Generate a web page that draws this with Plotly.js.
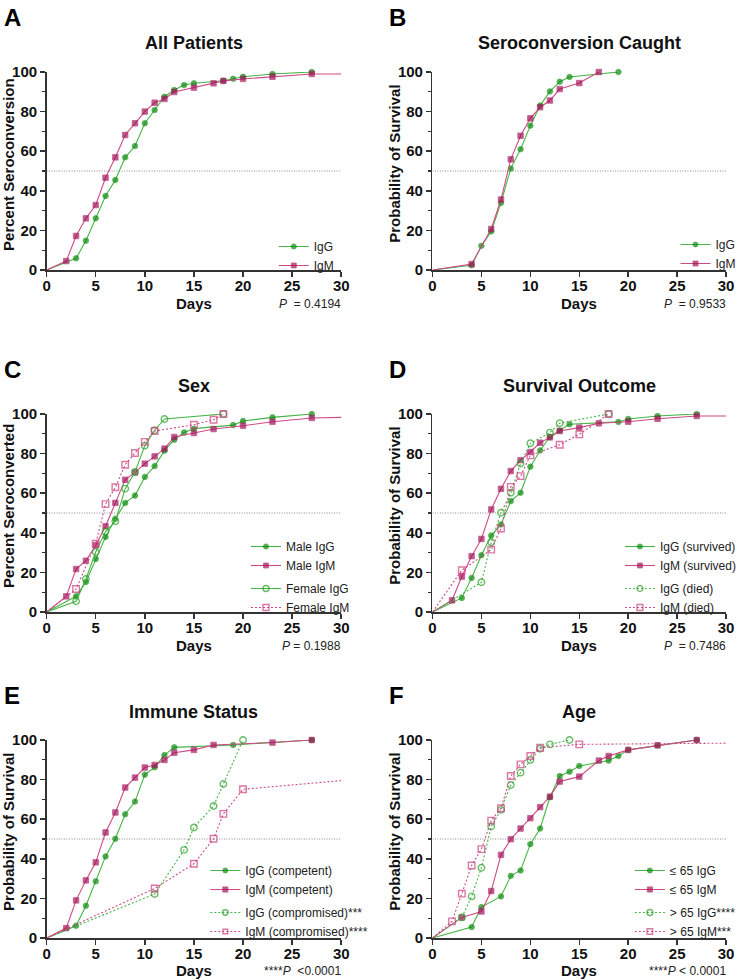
<!DOCTYPE html>
<html>
<head>
<meta charset="utf-8">
<script src="https://cdn.plot.ly/plotly-3.0.1.min.js"></script>
<style>html,body{margin:0;padding:0;background:#fff;}#chart{width:742px;height:980px;}</style>
</head>
<body>
<div id="chart"></div>
<script>
// ---------------- DATA ----------------
// A: All Patients
const a_igg_x = [0,3,4,5,6,7,8,9,10,11,12,13,14,15,18,19,20,23,27];
const a_igg_y = [0,5.9,14.8,26.1,37.4,45.5,56.9,62.6,74.1,80.8,87.5,90.9,93.4,94.3,95.6,96.6,97.6,99.0,100];
const a_igm_x = [0,2,3,4,5,6,7,8,9,10,11,12,13,15,17,18,20,23,27,30];
const a_igm_y = [0,4.5,17.2,26.1,32.8,46.6,56.9,68.2,74.1,80.0,84.5,86.4,89.9,92.1,94.3,95.5,96.5,97.6,99.0,99.0];
// B: Seroconversion Caught
const b_igg_x = [0,4,5,6,7,8,9,10,11,12,13,14,19];
const b_igg_y = [0,2.4,12.2,19.5,33.9,51.2,61.0,72.9,83.1,90.2,95.1,97.5,100];
const b_igm_x = [0,4,6,7,8,9,10,11,12,13,15,17];
const b_igm_y = [0,3.0,20.7,35.6,55.9,67.8,76.6,82.2,85.6,91.4,94.4,100];
// C: Sex
const c_male_igg_x = [0,3,4,5,6,7,8,9,10,11,12,13,14,15,19,20,23,27];
const c_male_igg_y = [0,7.9,15.2,26.8,37.9,47.1,55.1,58.8,68.2,73.7,81.5,87.0,90.7,92.6,94.4,96.5,98.3,100];
const c_male_igm_x = [0,2,3,4,5,6,7,8,9,10,11,12,13,15,17,20,23,27,30];
const c_male_igm_y = [0,7.9,21.7,25.9,33.7,43.3,55.1,66.8,70.5,74.9,78.6,82.5,88.4,90.4,92.4,94.1,96.1,98.0,98.3];
const c_fem_igg_x = [0,3,4,5,6,7,8,9,10,11,12,18];
const c_fem_igg_y = [0,5.4,16.7,30.3,40.6,45.8,62.3,70.7,84.0,91.8,97.5,100];
const c_fem_igm_x = [0,3,5,6,7,8,9,10,11,15,17,18];
const c_fem_igm_y = [0,11.6,34.5,54.5,63.0,74.4,80.3,85.9,91.4,94.6,97.1,100];
// D: Survival Outcome
const d_surv_igg_x = [0,3,4,5,6,7,8,9,10,11,12,13,14,19,20,23,27];
const d_surv_igg_y = [0,7.1,17.2,28.7,38.6,44.2,56.0,60.2,73.4,81.6,88.5,91.7,94.8,96.0,97.5,99.0,100];
const d_surv_igm_x = [0,2,3,4,5,6,7,8,9,10,11,12,13,15,17,20,23,27,30];
const d_surv_igm_y = [0,5.9,17.9,28.2,36.9,51.8,62.2,71.2,76.7,80.8,85.5,88.2,91.4,93.1,95.3,96.1,97.6,99.0,99.0];
const d_died_igg_x = [0,5,6,7,8,9,10,12,13,18];
const d_died_igg_y = [0,15.0,35.2,50.1,60.2,75.0,85.2,90.6,95.4,100];
const d_died_igm_x = [0,3,6,7,8,9,10,13,15,18];
const d_died_igm_y = [0,21.1,31.5,42.2,63.2,68.6,79.1,84.5,89.7,100];
// E: Immune Status
const e_comp_igg_x = [0,3,4,5,6,7,8,9,10,11,12,13,19,27];
const e_comp_igg_y = [0,6.2,16.3,28.6,41.2,50.1,62.5,68.9,82.5,86.2,92.4,96.3,97.5,100];
const e_comp_igm_x = [0,2,3,4,5,6,7,8,9,10,11,12,13,15,17,23,27];
const e_comp_igm_y = [0,5.0,19.0,29.1,38.2,53.3,63.4,76.0,81.0,86.1,87.4,89.9,93.6,95.0,97.5,98.7,100];
const e_cmpr_igg_x = [0,11,14,15,17,18,20];
const e_cmpr_igg_y = [0,22.2,44.5,55.8,66.7,77.8,100];
const e_cmpr_igm_x = [0,11,15,17,18,20,30];
const e_cmpr_igm_y = [0,25.0,37.5,50.1,62.7,75.1,79.5];
// F: Age
const f_young_igg_x = [0,4,5,7,8,9,10,11,12,13,14,15,18,19,20,23,27];
const f_young_igg_y = [0,5.5,15.6,21.0,31.4,34.1,47.4,55.3,71.1,81.8,84.0,86.9,89.6,91.9,95.0,97.3,100];
const f_young_igm_x = [0,3,5,6,7,8,9,10,11,12,13,15,17,18,20,23,27];
const f_young_igm_y = [0,10.4,13.4,23.7,42.0,49.9,55.3,60.5,66.1,71.4,79.0,81.5,89.6,91.9,95.0,97.3,100];
const f_old_igg_x = [0,3,4,5,6,7,8,9,10,11,12,14];
const f_old_igg_y = [0,10.4,21.0,35.5,56.3,64.7,77.3,83.5,89.9,95.6,97.8,100];
const f_old_igm_x = [0,2,3,4,5,6,7,8,9,10,11,15,30];
const f_old_igm_y = [0,8.4,22.4,36.6,44.9,59.3,65.5,81.8,87.7,91.9,96.1,97.8,98.4];

// text
const panelLetters = ['A','B','C','D','E','F'];
const panelTitles = ['All Patients','Seroconversion Caught','Sex','Survival Outcome','Immune Status','Age'];
const yTitles = ['Percent Seroconversion','Probability of Survival','Percent Seroconverted','Probability of Survival','Probability of Survival','Probability of Survival'];
const pTexts = ['<i>P</i>\u00a0\u00a0= 0.4194','<i>P</i>\u00a0\u00a0= 0.9533','<i>P</i> = 0.1988','<i>P</i>\u00a0\u00a0= 0.7486','****<i>P</i>\u00a0\u00a0&lt;0.0001','****<i>P</i> &lt; 0.0001'];
const xTitle = 'Days';

// ---------------- STYLE / LAYOUT ----------------
const W = 742, H = 980;
const FONT = 'Liberation Sans, Arial, sans-serif';
const G_MK = '#0d8a0d', G_LN = '#45b545', G_OPEN = '#2a9f2a';
const M_MK = '#a3145a', M_LN = '#cf4a84', M_OPEN = '#cc3d7d';

// plot area pixel boxes [left, right, top, bottom]
const boxes = [
  [47,344,72,270],[436,732,72,270],
  [47,344,414,612],[436,732,414,612],
  [47,344,740,938],[436,732,740,938]
];

const styles = {
  gFill: {color:G_LN, mk:G_MK, symbol:'circle', size:5.5, dash:'solid', lw:1.1, mlw:0.8},
  mFill: {color:M_LN, mk:M_MK, symbol:'square', size:5.5, dash:'solid', lw:1.1, mlw:0.8},
  gOpenSolid: {color:G_LN, mk:G_OPEN, symbol:'circle-open', size:6.5, dash:'solid', lw:1.1, mlw:1.4},
  gOpen: {color:G_LN, mk:G_OPEN, symbol:'circle-open', size:6.5, dash:'2px,2px', lw:1.1, mlw:1.4},
  mOpen: {color:M_LN, mk:M_OPEN, symbol:'square-open', size:6.5, dash:'2px,2px', lw:1.1, mlw:1.4}
};

function tr(xs, ys, st, name, idx, group){
  const s = styles[st];
  const sizes = xs.map(v => (v === 0 || v === 30) ? 0 : s.size);
  const suf = idx === 0 ? '' : String(idx+1);
  return {
    type:'scatter', mode:'lines+markers', x:xs, y:ys, name:name,
    xaxis:'x'+suf, yaxis:'y'+suf, legend:'legend'+suf, legendgroup:group,
    line:{color:s.color, width:s.lw, dash:s.dash},
    marker:{color:s.mk, symbol:s.symbol, size:sizes, line:{color:s.mk, width:s.mlw}},
    cliponaxis:false, hoverinfo:'x+y+name'
  };
}

const data = [
  tr(a_igg_x,a_igg_y,'gFill','IgG',0,'a'),
  tr(a_igm_x,a_igm_y,'mFill','IgM',0,'a'),
  tr(b_igg_x,b_igg_y,'gFill','IgG',1,'a'),
  tr(b_igm_x,b_igm_y,'mFill','IgM',1,'a'),
  tr(c_male_igg_x,c_male_igg_y,'gFill','Male IgG',2,'a'),
  tr(c_male_igm_x,c_male_igm_y,'mFill','Male IgM',2,'a'),
  tr(c_fem_igg_x,c_fem_igg_y,'gOpenSolid','Female IgG',2,'b'),
  tr(c_fem_igm_x,c_fem_igm_y,'mOpen','Female IgM',2,'b'),
  tr(d_surv_igg_x,d_surv_igg_y,'gFill','IgG (survived)',3,'a'),
  tr(d_surv_igm_x,d_surv_igm_y,'mFill','IgM (survived)',3,'a'),
  tr(d_died_igg_x,d_died_igg_y,'gOpen','IgG (died)',3,'b'),
  tr(d_died_igm_x,d_died_igm_y,'mOpen','IgM (died)',3,'b'),
  tr(e_comp_igg_x,e_comp_igg_y,'gFill','IgG (competent)',4,'a'),
  tr(e_comp_igm_x,e_comp_igm_y,'mFill','IgM (competent)',4,'a'),
  tr(e_cmpr_igg_x,e_cmpr_igg_y,'gOpen','IgG (compromised)***',4,'b'),
  tr(e_cmpr_igm_x,e_cmpr_igm_y,'mOpen','IgM (compromised)****',4,'b'),
  tr(f_young_igg_x,f_young_igg_y,'gFill','\u2264 65 IgG',5,'a'),
  tr(f_young_igm_x,f_young_igm_y,'mFill','\u2264 65 IgM',5,'a'),
  tr(f_old_igg_x,f_old_igg_y,'gOpen','> 65 IgG****',5,'b'),
  tr(f_old_igm_x,f_old_igm_y,'mOpen','> 65 IgM***',5,'b')
];

const layout = {
  width:W, height:H, margin:{l:0,r:0,t:0,b:0},
  paper_bgcolor:'#fff', plot_bgcolor:'#fff',
  font:{family:FONT, color:'#111'},
  showlegend:true, annotations:[], shapes:[]
};

// legend marker target (px): [markerX, firstItemCenterY]
const legendPos = [[296,246],[701,244],[268,546],[645,546],[227,870],[655,870]];

boxes.forEach((b, i) => {
  const suf = i === 0 ? '' : String(i+1);
  const xd = [b[0]/W, b[1]/W], yd = [1-b[3]/H, 1-b[2]/H];
  layout['xaxis'+suf] = {
    domain:xd, range:[0,30], tick0:0, dtick:5, anchor:'y'+suf,
    ticks:'outside', ticklen:5, tickwidth:1.5, tickcolor:'#333', ticklabelstandoff:-4,
    showline:true, linecolor:'#333', linewidth:1.5, showgrid:false, zeroline:false,
    tickfont:{family:FONT, size:15, color:'#111', weight:'bold'}, fixedrange:true
  };
  layout['yaxis'+suf] = {
    domain:yd, range:[0,100], tick0:0, dtick:20, anchor:'x'+suf,
    ticks:'outside', ticklen:5, tickwidth:1.5, tickcolor:'#333',
    minor:{dtick:10, ticks:'outside', ticklen:3, tickwidth:1.2, tickcolor:'#333', showgrid:false},
    showline:true, linecolor:'#333', linewidth:1.5, showgrid:false, zeroline:false,
    tickfont:{family:FONT, size:15, color:'#111', weight:'bold'}, fixedrange:true
  };
  layout.shapes.push({type:'line', xref:'x'+suf, yref:'y'+suf, x0:0, x1:30, y0:50, y1:50,
    line:{color:'#8a8a8a', width:1, dash:'1px,1.5px'}, layer:'below'});

  const col = i % 2;
  const cx = (b[0]+b[1])/2, cy = (b[2]+b[3])/2;
  // panel letter
  layout.annotations.push({text:'<b>'+panelLetters[i]+'</b>', xref:'paper', yref:'paper',
    x:(col===0?2:390)/W, y:1-(b[2]-(i<2?70:60))/H, xanchor:'left', yanchor:'top', showarrow:false,
    font:{family:FONT, size:24, color:'#000'}});
  // title
  const ty = i<2 ? b[2]-29 : b[2]-28;
  layout.annotations.push({text:'<b>'+panelTitles[i]+'</b>', xref:'paper', yref:'paper',
    x:cx/W, y:1-ty/H, xanchor:'center', yanchor:'middle', showarrow:false,
    font:{family:FONT, size:18, color:'#111'}});
  // y title
  layout.annotations.push({text:'<b>'+yTitles[i]+'</b>', xref:'paper', yref:'paper',
    x:(col===0?8:397)/W, y:1-(cy-7)/H, xanchor:'center', yanchor:'middle', textangle:-90, showarrow:false,
    font:{family:FONT, size:15, color:'#111'}});
  // x title
  const dy = i < 4 ? 33 : 32;
  layout.annotations.push({text:'<b>'+xTitle+'</b>', xref:'paper', yref:'paper',
    x:cx/W, y:1-(b[3]+dy)/H, xanchor:'center', yanchor:'middle', showarrow:false, borderpad:0,
    font:{family:FONT, size:15, color:'#111'}});
  // p value
  layout.annotations.push({text:pTexts[i], xref:'paper', yref:'paper',
    x:(b[1]+1)/W, y:1-(b[3]+dy+1)/H, xanchor:'right', yanchor:'middle', showarrow:false, borderpad:0,
    font:{family:FONT, size:12, color:'#222'}});
  // legend
  const lp = legendPos[i];
  layout['legend'+suf] = {
    x:(lp[0]-20)/W, y:1-(lp[1]-14)/H, xanchor:'left', yanchor:'top',
    xref:'paper', yref:'paper', bgcolor:'rgba(0,0,0,0)', borderwidth:0,
    traceorder:'grouped', tracegroupgap:4,
    font:{family:FONT, size:12, color:'#222'}
  };
});

Plotly.newPlot('chart', data, layout, {displayModeBar:false, staticPlot:true});
</script>
</body>
</html>
